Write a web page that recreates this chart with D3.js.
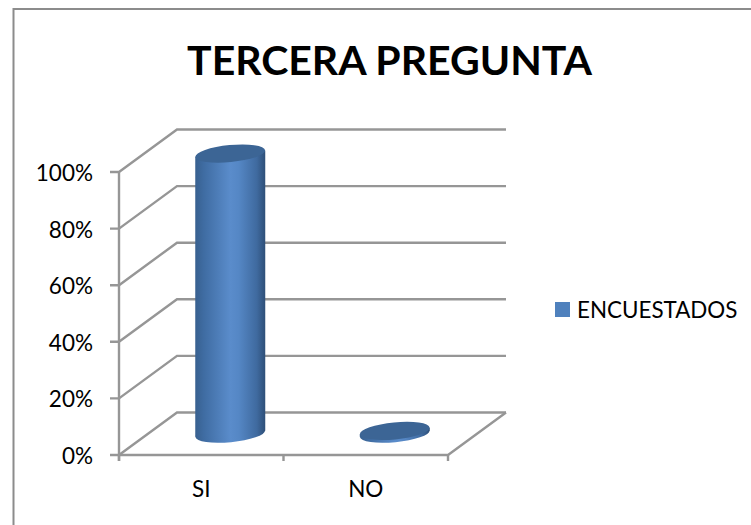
<!DOCTYPE html>
<html><head><meta charset="utf-8">
<script src="https://cdn.jsdelivr.net/npm/d3@7/dist/d3.min.js"></script>
<style>html,body{margin:0;padding:0;background:#fff}svg{display:block}text{font-family:Lato,"Open Sans",sans-serif;fill:#000}</style>
</head><body><svg id="c" width="751" height="525"></svg>
<script>
const title = "TERCERA PREGUNTA";
const categories = ["SI","NO"];
const values = [0.99,0.01];
const seriesName = "ENCUESTADOS";
const ticks = [0,0.2,0.4,0.6,0.8,1];

const svg = d3.select("#c");
const x = d3.scaleBand().domain(categories).range([119,448]);
const y = d3.scaleLinear().domain([0,1]).range([455,172]);
const dx = 58, dy = -42.5, grey = "#969696";

const defs = svg.append("defs");
const g = defs.append("linearGradient").attr("id","cyl");
[[0,"#38608f"],[0.12,"#3f6ca2"],[0.5,"#5a8ccb"],[0.62,"#5587c5"],[0.88,"#3f6a9f"],[1,"#2e4f78"]]
  .forEach(([o,c])=>g.append("stop").attr("offset",o).attr("stop-color",c));

svg.append("path").attr("d","M13.5,525V9H751").attr("fill","none").attr("stroke","#8c8c8c").attr("stroke-width",2);

const lines = svg.append("g").attr("fill","none").attr("stroke",grey).attr("stroke-width",2.4);
ticks.forEach(t=>{
  lines.append("path").attr("d",`M${x.range()[0]-9},${y(t)}H${x.range()[0]}l${dx},${dy}H${x.range()[1]+dx}`);
});
lines.append("path").attr("d",`M${x.range()[0]},${y(1)}V${y(0)+6}`);
lines.append("path").attr("d",`M${x.range()[0]},${y(0)}H${x.range()[1]}l${dx},${dy}`);
[...categories.map(c=>x(c)),x.range()[1]].forEach(p=>lines.append("path").attr("d",`M${p},${y(0)}v6`));

svg.append("g").selectAll("text").data(ticks).join("text")
  .attr("x",93).attr("y",d=>y(d)+9).attr("text-anchor","end").attr("font-size",22.5)
  .text(d=>d3.format(".0%")(d));
svg.append("g").selectAll("text").data(categories).join("text")
  .attr("x",d=>x(d)+x.bandwidth()/2).attr("y",497).attr("text-anchor","middle").attr("font-size",22.5)
  .text(d=>d);

const rx = 35, ry = 8.5, tilt = -5.5, s = 3.1;
const bars = svg.append("g").selectAll("g").data(categories.map((c,i)=>({c,v:values[i]}))).join("g")
  .attr("transform",d=>`translate(${x(d.c)+x.bandwidth()/2+dx/2},${y(0)+dy/2})`);
bars.append("ellipse").attr("rx",rx).attr("ry",ry).attr("fill","url(#cyl)").attr("transform",`rotate(${tilt})`);
bars.append("path").attr("fill","url(#cyl)").attr("d",d=>{
  const h = y(0)-y(d.v);
  return `M${-rx},${s-h}L${rx},${-s-h}V${-s}L${-rx},${s}Z`;
});
bars.append("ellipse").attr("rx",rx).attr("ry",ry).attr("fill","#3c6595")
  .attr("transform",d=>`translate(0,${y(d.v)-y(0)}) rotate(${tilt})`);

const lg = svg.append("g");
lg.append("rect").attr("x",555).attr("y",302).attr("width",15).attr("height",15).attr("fill","#4f81bd");
lg.append("text").attr("x",577).attr("y",317.5).attr("font-size",22.4).text(seriesName);

svg.append("text").attr("x",389.5).attr("y",75).attr("text-anchor","middle")
  .attr("font-size",41).attr("font-weight",700).text(title);
</script></body></html>
